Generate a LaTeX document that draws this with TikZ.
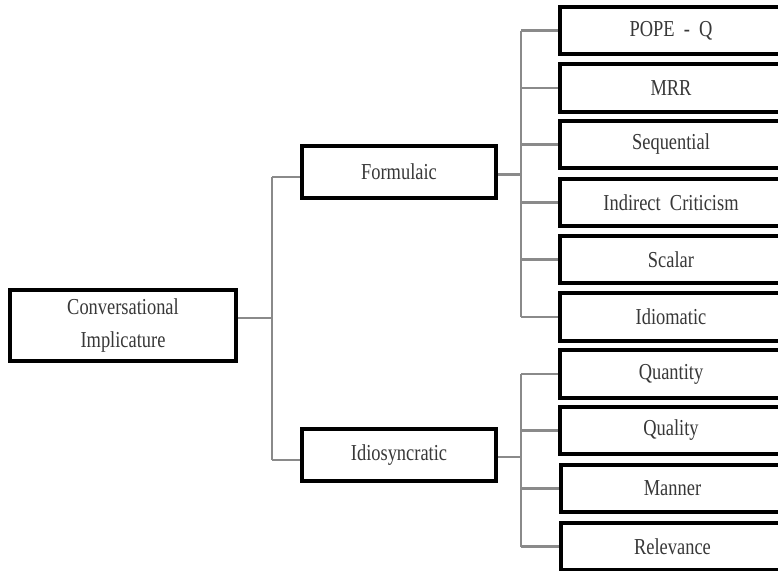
\documentclass[tikz,border=0pt]{standalone}
\usepackage{fontspec}
\setmainfont{Liberation Serif}
\definecolor{textgray}{HTML}{383838}
\definecolor{conngray}{HTML}{8A8A8A}
\newcommand{\tallt}[1]{\scalebox{0.97}[1.2]{#1}}
\begin{document}
\begin{tikzpicture}[x=1pt,y=-1pt,
  box/.style={draw=black, line width=2.6pt, fill=white, inner sep=0pt, align=center,
    font=\fontsize{19}{30}\selectfont, text=textgray},
  mid/.style={box, minimum width=193pt, minimum height=51pt},
  leaf/.style={box, minimum width=221pt, minimum height=46pt},
  conn/.style={draw=conngray, line width=2.3pt}]
\useasboundingbox (0,0) rectangle (778,570);
\clip (0,0) rectangle (778,570);
\fill[white] (0,0) rectangle (778,570);

% bus coordinates
\coordinate (trunk) at (272,0);
\coordinate (bus) at (521,0);

% nodes
\node[box, minimum width=225pt, minimum height=70pt] (root) at (123,325.5) {\tallt{Conversational}\\[3pt]\tallt{Implicature}};
\node[mid] (form) at (399,172) {\tallt{Formulaic}};
\node[mid] (idio) at (399,455) {\tallt{Idiosyncratic}};

\node[leaf] (pope) at (671,30.5) {\tallt{POPE\ \ -\ \ Q}};
\node[leaf] (mrr) at (671,88) {\tallt{MRR}};
\node[leaf] (seq) at (671,144.5) {\tallt{Sequential}};
\node[leaf] (ic) at (671,202.5) {\tallt{Indirect\ \ Criticism}};
\node[leaf] (scal) at (671,259.5) {\tallt{Scalar}};
\node[leaf] (idiom) at (671,317) {\tallt{Idiomatic}};
\node[leaf] (quan) at (671,374) {\tallt{Quantity}};
\node[leaf] (qual) at (671,430.5) {\tallt{Quality}};
\node[leaf] (mann) at (672.5,488.5) {\tallt{Manner}};
\node[leaf] (rel) at (672.5,546.5) {\tallt{Relevance}};

% connectors: root to trunk
\draw[conn] ([yshift=7.5pt]root.east) -- ([yshift=7.5pt]root.east -| trunk);
\draw[conn] ([yshift=-5pt]form.west -| trunk) -- ([yshift=-5pt]idio.west -| trunk);
\draw[conn] ([yshift=-5pt]form.west) -- ([yshift=-5pt]form.west -| trunk);
\draw[conn] ([yshift=-5pt]idio.west) -- ([yshift=-5pt]idio.west -| trunk);

% formulaic branch
\draw[conn] ([yshift=-2.5pt]form.east) -- ([yshift=-2.5pt]form.east -| bus);
\draw[conn] (pope.west -| bus) -- (idiom.west -| bus);
\foreach \n in {pope,mrr,seq,ic,scal,idiom}{
  \draw[conn] (\n.west) -- (\n.west -| bus);
}

% idiosyncratic branch
\draw[conn] ([yshift=-2pt]idio.east) -- ([yshift=-2pt]idio.east -| bus);
\draw[conn] (quan.west -| bus) -- (rel.west -| bus);
\foreach \n in {quan,qual,mann,rel}{
  \draw[conn] (\n.west) -- (\n.west -| bus);
}

% redraw box borders on top of connectors
\foreach \n in {root,form,idio,pope,mrr,seq,ic,scal,idiom,quan,qual,mann,rel}{
  \draw[black, line width=2.6pt] (\n.north west) rectangle (\n.south east);
}
\end{tikzpicture}
\end{document}
